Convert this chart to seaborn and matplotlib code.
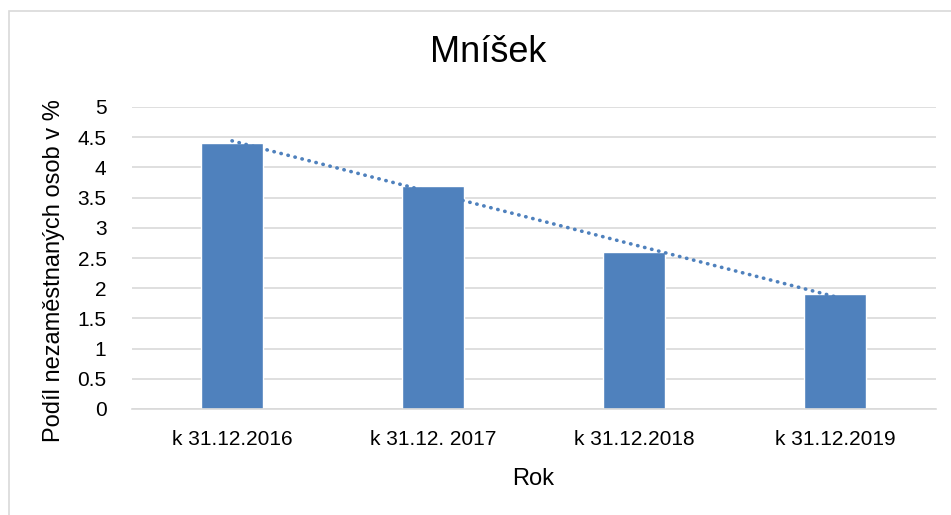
import numpy as np
import pandas as pd
import seaborn as sns
import matplotlib.pyplot as plt
from matplotlib.patches import Rectangle

roky = ["k 31.12.2016", "k 31.12. 2017", "k 31.12.2018", "k 31.12.2019"]
podil = [4.4, 3.7, 2.6, 1.9]

df = pd.DataFrame({"Rok": roky, "Podil": podil})

sns.set_style("white")
plt.rcParams["font.family"] = ["Liberation Sans", "DejaVu Sans"]
plt.rcParams["text.color"] = "black"
plt.rcParams["axes.labelcolor"] = "black"

modra = "#4F81BD"
seda = "#D9D9D9"

fig = plt.figure(figsize=(9.51, 5.15), dpi=100)
ax = fig.add_axes([131.5 / 951, 1 - 409 / 515, 804 / 951, 302 / 515])

sns.barplot(data=df, x="Rok", y="Podil", color=modra, width=0.31, saturation=1, ax=ax, zorder=2)

# linearni trend jako v Excelu
x = np.arange(len(podil))
k, q = np.polyfit(x, podil, 1)
ax.plot(x, k * x + q, color=modra, lw=2.6, linestyle=(0, (0.1, 1.9)),
        dash_capstyle="round", zorder=3)

ax.set_ylim(0, 5)
ax.set_xlim(-0.5, 3.5)
ax.set_yticks(np.arange(0, 5.01, 0.5))
ax.set_yticklabels(["0", "0.5", "1", "1.5", "2", "2.5", "3", "3.5", "4", "4.5", "5"])
ax.grid(axis="y", color=seda, lw=1.2, zorder=0)
ax.set_axisbelow(True)
for s in ["top", "right", "left"]:
    ax.spines[s].set_visible(False)
ax.spines["bottom"].set_color(seda)
ax.spines["bottom"].set_linewidth(1.2)
ax.tick_params(axis="both", length=0, labelsize=15, labelcolor="black")
ax.tick_params(axis="y", pad=18)
ax.tick_params(axis="x", pad=15)

ax.set_xlabel("Rok", fontsize=17, labelpad=14)
ax.set_ylabel("Podíl nezaměstnaných osob v %", fontsize=17)
ax.yaxis.set_label_coords(-66 / 804, 0.46)

fig.text(488 / 951, 1 - 53 / 515, "Mníšek", ha="center", va="center", fontsize=26)

# ramecek grafu
fig.patches.append(Rectangle((8.5 / 951, -0.05), 1.1, 1.05 - 10.5 / 515,
                             transform=fig.transFigure, fill=False,
                             edgecolor=seda, lw=1.2))

fig.savefig("out.png", dpi=100)
